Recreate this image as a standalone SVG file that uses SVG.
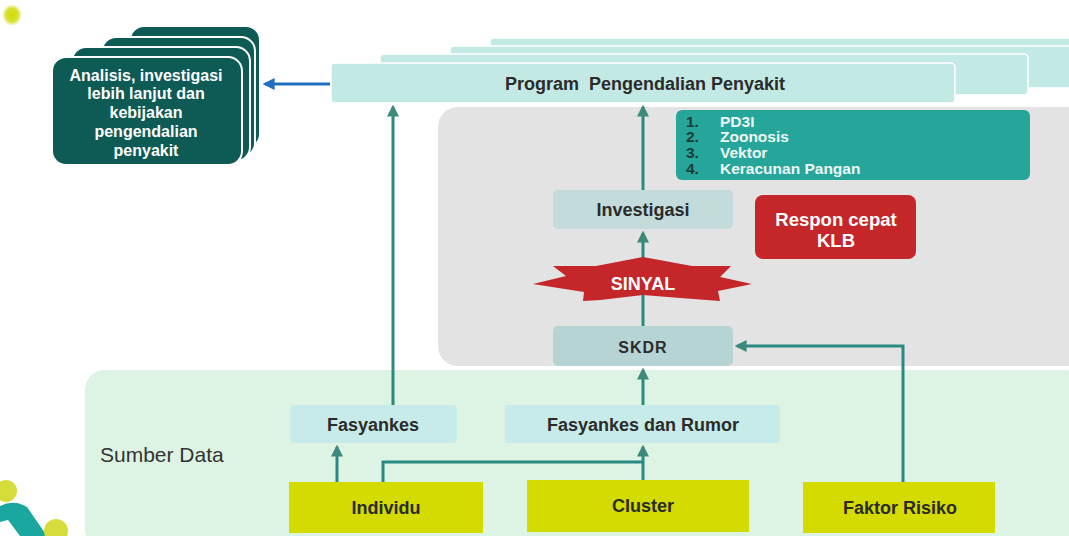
<svg xmlns="http://www.w3.org/2000/svg" width="1069" height="536" viewBox="0 0 1069 536">
  <defs>
    <style>
      .lbl { font-family: "Liberation Sans", Arial, sans-serif; font-weight: 700; fill: #2b2b2b; text-anchor: middle; }
      .card { fill: #0e5a55; stroke: #ffffff; stroke-width: 2; }
      .prog { fill: #c3e9e4; stroke: #ffffff; stroke-width: 1.5; }
      .src { fill: #c7ebe8; }
      .in { fill: #d3db00; }
      .conn { fill: none; stroke: #2a8a82; stroke-width: 3; }
    </style>
    <marker id="ah" viewBox="0 0 10 10" refX="8" refY="5" markerWidth="4" markerHeight="4" orient="auto" markerUnits="strokeWidth">
      <path d="M0,0 L10,5 L0,10 z" fill="#3d8a7c"/>
    </marker>
    <marker id="ahb" viewBox="0 0 10 10" refX="8" refY="5" markerWidth="4" markerHeight="4" orient="auto" markerUnits="strokeWidth">
      <path d="M0,0 L10,5 L0,10 z" fill="#1f6fbf"/>
    </marker>
    <radialGradient id="yg" cx="0.5" cy="0.5" r="0.5">
      <stop offset="0" stop-color="#cfdc00"/>
      <stop offset="0.6" stop-color="#d6e030"/>
      <stop offset="1" stop-color="#d6e030" stop-opacity="0"/>
    </radialGradient>
  </defs>

  <rect width="1069" height="536" fill="#ffffff"/>

  <!-- corner decorations -->
  <ellipse cx="12" cy="15" rx="10" ry="11" fill="url(#yg)"/>
  <circle cx="6" cy="491" r="11" fill="#d6dc3a"/>
  <path d="M0,506 Q14,499 27,507 L47,536 L20,536 L8,520 L0,522 z" fill="#1aa7a0"/>
  <circle cx="56" cy="531" r="12" fill="#d6dc3a"/>

  <!-- background panels -->
  <g id="panel-sumber">
    <rect x="85" y="370" width="1000" height="180" rx="20" fill="#ddf3e4"/>
    <text x="100" y="462" font-family="Liberation Sans, Arial, sans-serif" font-size="21" fill="#333333">Sumber Data</text>
  </g>
  <g id="panel-grey">
    <rect x="438" y="107" width="650" height="259" rx="20" fill="#e3e3e3"/>
  </g>

  <!-- Program stack -->
  <g id="program">
    <rect class="prog" x="490" y="38" width="600" height="40" rx="4"/>
    <rect class="prog" x="450" y="46" width="640" height="42" rx="4"/>
    <rect class="prog" x="380" y="54" width="648" height="41" rx="4"/>
    <rect class="prog" x="331" y="63" width="624" height="40" rx="4"/>
    <text class="lbl" x="645" y="90" font-size="18" xml:space="preserve">Program  Pengendalian Penyakit</text>
  </g>

  <!-- Analysis stack -->
  <g id="analisis">
    <rect class="card" x="130" y="26" width="130" height="122" rx="14"/>
    <rect class="card" x="102" y="37" width="153" height="120" rx="14"/>
    <rect class="card" x="72" y="47" width="178" height="114" rx="14"/>
    <rect class="card" x="52" y="57" width="190" height="108" rx="14"/>
    <g font-family="Liberation Sans, Arial, sans-serif" font-size="16" font-weight="700" fill="#ffffff" text-anchor="middle">
      <text x="146" y="81">Analisis, investigasi</text>
      <text x="146" y="99">lebih lanjut dan</text>
      <text x="146" y="118">kebijakan</text>
      <text x="146" y="137">pengendalian</text>
      <text x="146" y="156">penyakit</text>
    </g>
  </g>

  <!-- Program list -->
  <g id="daftar">
    <rect x="676" y="110" width="354" height="70" rx="6" fill="#26a69b"/>
    <g font-family="Liberation Sans, Arial, sans-serif" font-size="15.5" font-weight="700">
      <text x="686" y="127" fill="#1d3b38">1.</text>
      <text x="720" y="127" fill="#eef7f5">PD3I</text>
      <text x="686" y="142" fill="#1d3b38">2.</text>
      <text x="720" y="142" fill="#eef7f5">Zoonosis</text>
      <text x="686" y="158" fill="#1d3b38">3.</text>
      <text x="720" y="158" fill="#eef7f5">Vektor</text>
      <text x="686" y="174" fill="#1d3b38">4.</text>
      <text x="720" y="174" fill="#eef7f5">Keracunan Pangan</text>
    </g>
  </g>

  <g id="investigasi">
    <rect x="553" y="190" width="180" height="39" rx="5" fill="#c4dbdb"/>
    <text class="lbl" x="643" y="216" font-size="18" fill="#333333">Investigasi</text>
  </g>

  <g id="respon">
    <rect x="755" y="195" width="161" height="64" rx="8" fill="#c4262a"/>
    <g font-family="Liberation Sans, Arial, sans-serif" font-size="18.5" font-weight="700" fill="#ffffff" text-anchor="middle">
      <text x="836" y="226">Respon cepat</text>
      <text x="836" y="247">KLB</text>
    </g>
  </g>

  <g id="skdr">
    <rect x="553" y="326" width="180" height="40" rx="5" fill="#b7d4d5"/>
    <text class="lbl" x="643" y="353" font-size="16" letter-spacing="1" fill="#333333">SKDR</text>
  </g>

  <!-- Source nodes -->
  <g id="fasyankes">
    <rect class="src" x="290" y="405" width="167" height="38" rx="4"/>
    <text class="lbl" x="373" y="431" font-size="18">Fasyankes</text>
  </g>
  <g id="fasyankes-rumor">
    <rect class="src" x="505" y="405" width="275" height="38" rx="4"/>
    <text class="lbl" x="643" y="431" font-size="18">Fasyankes dan Rumor</text>
  </g>
  <g id="individu">
    <rect class="in" x="289" y="482" width="194" height="51"/>
    <text class="lbl" x="386" y="514" font-size="18">Individu</text>
  </g>
  <g id="cluster">
    <rect class="in" x="527" y="480" width="222" height="52"/>
    <text class="lbl" x="643" y="512" font-size="18">Cluster</text>
  </g>
  <g id="faktor-risiko">
    <rect class="in" x="803" y="482" width="192" height="51"/>
    <text class="lbl" x="900" y="514" font-size="18">Faktor Risiko</text>
  </g>

  <!-- connectors -->
  <g id="connectors">
    <line class="conn" x1="330" y1="84" x2="265" y2="84" style="stroke:#1f6fbf" marker-end="url(#ahb)"/>
    <line class="conn" x1="337" y1="482" x2="337" y2="447" marker-end="url(#ah)"/>
    <polyline class="conn" points="383,482 383,462 643,462"/>
    <line class="conn" x1="643" y1="480" x2="643" y2="447" marker-end="url(#ah)"/>
    <line class="conn" x1="393" y1="405" x2="393" y2="107" marker-end="url(#ah)"/>
    <line class="conn" x1="643" y1="405" x2="643" y2="370" marker-end="url(#ah)"/>
    <line class="conn" x1="643" y1="326" x2="643" y2="233" marker-end="url(#ah)"/>
    <line class="conn" x1="643" y1="190" x2="643" y2="107" marker-end="url(#ah)"/>
    <polyline class="conn" points="903,482 903,346 737,346" marker-end="url(#ah)"/>
  </g>

  <!-- signal burst over the SKDR line -->
  <g id="sinyal">
    <polygon points="533,284 566,276 553,266 596,266 643,257 692,266 731,266 720,277 752,284 718,291 720,301 680,298 643,295 600,300 583,301 584,292" fill="#c4262a"/>
    <text x="643" y="290" font-family="Liberation Sans, Arial, sans-serif" font-size="18" font-weight="700" fill="#ffffff" text-anchor="middle">SINYAL</text>
  </g>
</svg>
